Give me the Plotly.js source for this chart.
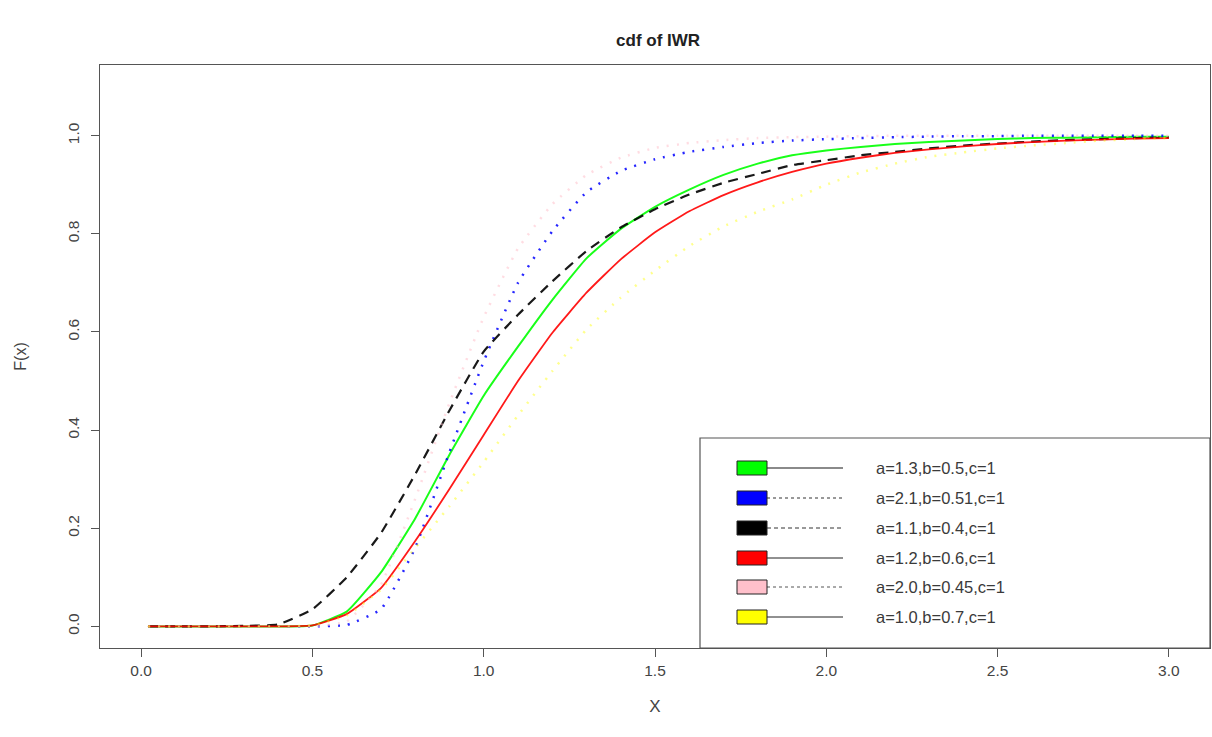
<!DOCTYPE html>
<html>
<head>
<meta charset="utf-8">
<script src="https://cdn.plot.ly/plotly-3.0.1.min.js"></script>
<style>
  html, body { margin: 0; padding: 0; background: #ffffff; }
  #chart { width: 1212px; height: 737px; }
</style>
</head>
<body>
<div id="chart"></div>
<script>
// ---- data ----
const xValues = [0.02,0.1,0.2,0.3,0.4,0.5,0.6,0.7,0.8,0.9,1.0,1.1,1.2,1.3,1.4,1.5,1.6,1.7,1.8,1.9,2.0,2.1,2.2,2.3,2.4,2.5,2.6,2.7,2.8,2.9,3.0];

const cdfGreen  = [0,0,0,0,0,0.002,0.03,0.11,0.22,0.35,0.47,0.57,0.665,0.75,0.81,0.855,0.89,0.92,0.943,0.96,0.97,0.977,0.983,0.987,0.99,0.993,0.995,0.996,0.997,0.998,0.998];
const cdfBlue   = [0,0,0,0,0,0,0.003,0.035,0.16,0.355,0.54,0.70,0.805,0.885,0.928,0.952,0.967,0.977,0.985,0.99,0.993,0.995,0.997,0.998,0.999,0.999,1,1,1,1,1];
const cdfBlack  = [0,0,0,0.001,0.004,0.035,0.10,0.19,0.31,0.44,0.56,0.635,0.703,0.765,0.813,0.85,0.88,0.904,0.922,0.94,0.95,0.96,0.967,0.974,0.98,0.984,0.988,0.991,0.993,0.995,0.996];
const cdfRed    = [0,0,0,0,0,0.002,0.025,0.078,0.174,0.28,0.39,0.50,0.598,0.68,0.748,0.803,0.846,0.879,0.905,0.926,0.943,0.955,0.965,0.972,0.978,0.983,0.987,0.99,0.992,0.994,0.995];
const cdfPink   = [0,0,0,0,0,0,0.01,0.085,0.26,0.455,0.63,0.77,0.86,0.92,0.955,0.975,0.985,0.991,0.995,0.997,0.998,0.999,1,1,1,1,1,1,1,1,1];
const cdfYellow = [0,0,0,0,0,0.002,0.022,0.075,0.16,0.245,0.335,0.43,0.52,0.605,0.67,0.725,0.775,0.815,0.845,0.87,0.9,0.925,0.943,0.957,0.966,0.974,0.98,0.985,0.99,0.993,0.995];

const seriesLabels = ["a=1.3,b=0.5,c=1","a=2.1,b=0.51,c=1","a=1.1,b=0.4,c=1","a=1.2,b=0.6,c=1","a=2.0,b=0.45,c=1","a=1.0,b=0.7,c=1"];
const seriesColors = ["#00ff00","#0000ff","#000000","#ff0000","#ffc0cb","#ffff00"];

const xTickVals = [0,0.5,1,1.5,2,2.5,3];
const xTickText = ["0.0","0.5","1.0","1.5","2.0","2.5","3.0"];
const yTickVals = [0,0.2,0.4,0.6,0.8,1.0];
const yTickText = ["0.0","0.2","0.4","0.6","0.8","1.0"];

// ---- styles ----
const seriesData = [cdfGreen, cdfBlue, cdfBlack, cdfRed, cdfPink, cdfYellow];
const plotDash    = ["solid","2px,8px","10px,7px","solid","2px,8px","2px,8px"];
const plotWidth   = [2, 2.5, 2.2, 1.8, 2.5, 2.5];
const plotOpacity = [0.9, 0.85, 0.9, 0.9, 0.55, 0.45];
const legDash   = ["solid","dot","4px,3px","solid","dot","solid"];
const legColor  = ["#8a8a8a","#333333","#333333","#222222","#555555","#222222"];
const legWidth  = [2, 1, 1, 1, 1, 1];

const traces = seriesData.map((ys, i) => ({
  x: xValues, y: ys, type: "scatter", mode: "lines",
  name: seriesLabels[i], showlegend: false, hoverinfo: "skip", opacity: plotOpacity[i],
  line: { color: seriesColors[i], width: plotWidth[i], dash: plotDash[i], shape: "spline", smoothing: 0.4 }
}));

// legend drawn manually (R-style filled boxes)
const L = 100, R = 1210, T = 65, B = 648;
const px = v => (v - L) / (R - L);
const py = v => (B - v) / (B - T);
const shapes = [
  { type: "rect", xref: "paper", yref: "paper", x0: px(700), x1: px(1210), y0: py(648), y1: py(438),
    line: { color: "#555555", width: 1.2 }, fillcolor: "#ffffff" }
];
const annotations = [];
const rowY = [468, 498, 528, 558, 587, 617];
rowY.forEach((ry, i) => {
  shapes.push({ type: "line", xref: "paper", yref: "paper", x0: px(767), x1: px(843), y0: py(ry), y1: py(ry),
    line: { color: legColor[i], width: legWidth[i], dash: legDash[i] } });
  shapes.push({ type: "rect", xref: "paper", yref: "paper", x0: px(737), x1: px(767), y0: py(ry + 7), y1: py(ry - 7),
    line: { color: "#222222", width: 1 }, fillcolor: seriesColors[i] });
  annotations.push({ xref: "paper", yref: "paper", x: px(874), y: py(ry), xanchor: "left", yanchor: "middle",
    text: seriesLabels[i], showarrow: false, font: { family: "Liberation Sans, Arial, sans-serif", size: 16.5, color: "#3a3a3a" } });
});

const layout = {
  width: 1212, height: 737,
  margin: { l: L, r: 1212 - R, t: T, b: 737 - B, pad: 0 },
  paper_bgcolor: "#ffffff", plot_bgcolor: "#ffffff",
  font: { family: "Liberation Sans, Arial, sans-serif", size: 15, color: "#444444" },
  title: { text: "<b>cdf of IWR</b>", x: 0.543, xanchor: "center", y: 0.945, yanchor: "middle",
           font: { family: "Liberation Sans, Arial, sans-serif", size: 17, color: "#222222" } },
  xaxis: {
    range: [-0.12, 3.12], tickmode: "array", tickvals: xTickVals, ticktext: xTickText,
    showgrid: false, zeroline: false, showline: true, mirror: true, linecolor: "#555555", linewidth: 1.2,
    ticks: "outside", ticklen: 8, tickcolor: "#555555", tickfont: { size: 15.5, color: "#444444" },
    title: { text: "X", font: { size: 17, color: "#444444" }, standoff: 22 }
  },
  yaxis: {
    range: [-0.044, 1.144], tickmode: "array", tickvals: yTickVals, ticktext: yTickText,
    showgrid: false, zeroline: false, showline: true, mirror: true, linecolor: "#555555", linewidth: 1.2,
    ticks: "outside", ticklen: 8, tickcolor: "#555555", tickangle: -90, ticklabelstandoff: 6,
    tickfont: { size: 15.5, color: "#444444" },
    title: { text: "F(x)", font: { size: 16, color: "#444444" }, standoff: 34 }
  },
  shapes: shapes,
  annotations: annotations
};

Plotly.newPlot("chart", traces, layout, { displayModeBar: false, staticPlot: true });
</script>
</body>
</html>
